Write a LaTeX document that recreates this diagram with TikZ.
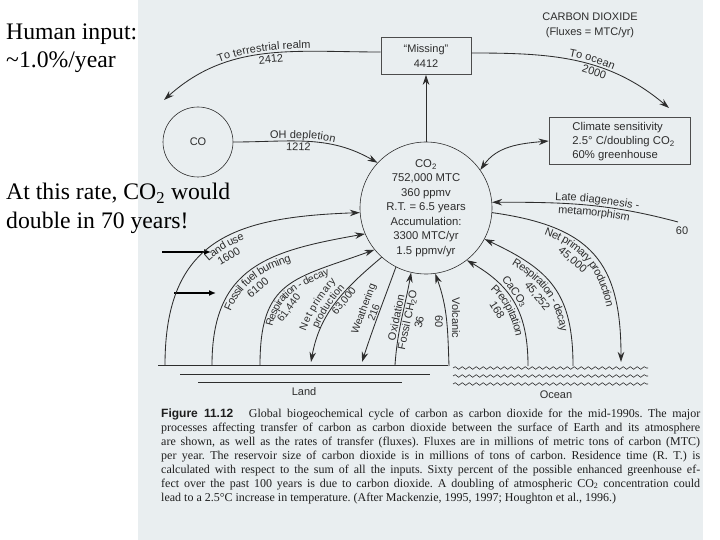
\documentclass[tikz,border=0pt]{standalone}
\usepackage{fontspec}
\setmainfont{Liberation Serif}
\setsansfont{Liberation Sans}
\usetikzlibrary{arrows.meta,decorations.pathmorphing,decorations.text}
\definecolor{scan}{RGB}{233,238,240}
\definecolor{ink}{RGB}{45,45,45}
\definecolor{capink}{RGB}{30,30,30}
\newcommand{\ctwo}{\textsubscript{2}}
\newcommand{\labfont}{\sffamily\fontsize{11}{12}\selectfont\color{ink}}
\newcommand{\smlabfont}{\sffamily\fontsize{10.4}{11}\selectfont\color{ink}}
\frenchspacing
\begin{document}
\begin{tikzpicture}[x=1pt,y=1pt,
  lab/.style={font=\sffamily\fontsize{11}{12}\selectfont, text=ink, inner sep=1.2pt, align=center},
  slab/.style={font=\sffamily\fontsize{10.4}{11}\selectfont, text=ink, inner sep=1pt, align=center},
  big/.style={font=\fontsize{23.7}{28}\selectfont, text=black, inner sep=0pt},
  captext/.style={font=\fontsize{12}{14}\selectfont, text=capink, inner sep=0pt, anchor=base west},
  tipa/.tip={Stealth[length=10pt,width=6.5pt]},
  flow/.style={draw=ink, line width=0.85pt, -tipa},
  flowrev/.style={draw=ink, line width=0.85pt, tipa-},
  dflow/.style={draw=ink, line width=0.85pt, tipa-tipa},
  pointer/.style={draw=black, line width=1.6pt, -{Latex[length=7pt,width=6pt]}},
  boxed/.style={draw=ink!85, line width=0.6pt, fill=scan},
  along/.style n args={4}{decorate, decoration={text along path, text={|\labfont|#1}, raise=#2,
      text align={center, left indent=#3, right indent=#4}}},
  salong/.style n args={4}{decorate, decoration={text along path, text={|\smlabfont|#1}, raise=#2,
      text align={center, left indent=#3, right indent=#4}}},
  wavy/.style={draw=ink, line width=0.6pt, decorate, decoration={snake, amplitude=1.3pt, segment length=7pt}}]
\fill[white] (0,0) rectangle (720,-540);
\fill[scan] (138,0) rectangle (703,-540);
\useasboundingbox (0,0) rectangle (720,-540);

% left annotations
\node[big, anchor=base west] (hum1) at (6,-39.5) {Human input:};
\node[big, anchor=base west] (hum2) at (6,-68) {\textasciitilde1.0\%/year};
\node[big, anchor=base west] (rate1) at (6,-200) {At this rate, CO\ctwo\ would};
\node[big, anchor=base west] (rate2) at (6,-229) {double in 70 years!};
\coordinate (pa1) at (162,-252); \coordinate (pa2) at (211,-252);
\coordinate (pb1) at (174,-293); \coordinate (pb2) at (216,-293);
\draw[pointer] (pa1) -- (pa2);
\draw[pointer] (pb1) -- (pb2);

% header
\node[lab] (cdx) at (590,-17) {CARBON DIOXIDE};
\node[lab] (flx) at (590,-33) {(Fluxes = MTC/yr)};

% main nodes
\node[boxed, lab, minimum width=90pt, minimum height=37pt] (miss) at (426,-56) {“Missing”\\[3pt]4412};
\node[draw=ink, line width=0.6pt, circle, minimum size=70pt, inner sep=0pt, lab] (co) at (198,-142) {CO};
\node[draw=ink, line width=0.6pt, circle, minimum size=132pt, inner sep=0pt, lab,
      font=\sffamily\fontsize{11.3}{14.5}\selectfont] (co2) at (426,-208)
  {CO\ctwo\\752,000 MTC\\360 ppmv\\R.T. = 6.5 years\\Accumulation:\\3300 MTC/yr\\1.5 ppmv/yr};
\node[boxed, minimum width=141pt, minimum height=47pt, inner sep=0pt] (clim) at (619.5,-141) {};
\node[lab, align=left, anchor=west, font=\sffamily\fontsize{11.3}{14}\selectfont] (climt) at (571,-142)
  {Climate sensitivity\\2.5° C/doubling CO\ctwo\\60\% greenhouse};

% end points
\coordinate (lt) at (164,-100);
\coordinate (rt) at (669,-108);
\coordinate (mw) at ([yshift=4pt]miss.west);
\coordinate (me) at ([yshift=3pt]miss.east);
\coordinate (ldend) at (678,-222);
\coordinate (onpp) at (621,-362);
\coordinate (oresb) at (573,-366);
\coordinate (ocab) at (528,-366);
\coordinate (volb) at (449,-366);
\coordinate (fosb) at (395,-365);
\coordinate (weab) at (362,-362);
\coordinate (lnpb) at (311,-362);
\coordinate (lrb) at (260,-365);
\coordinate (lfb) at (212,-365);
\coordinate (lub) at (165,-365);

% top fluxes
\draw[flow] (co2.north) -- (miss.south);
\draw[flowrev] (lt) to[out=42, in=180] node[lab, sloped, below, pos=0.53] (n2412) {2412} (mw);
\path[along={To terrestrial realm}{3pt}{0pt}{4pt}] (lt) to[out=42, in=180] (mw);
\draw[flow] (me) to[out=0, in=140] node[lab, sloped, below, pos=0.6] (n2000) {2000} (rt);
\path[along={To ocean}{3pt}{30pt}{0pt}] (me) to[out=0, in=140] (rt);

% CO and climate
\draw[flow] (co.east) to[out=0, in=150] node[lab, sloped, below, pos=0.43] (n1212) {1212} (co2.137);
\path[along={OH depletion}{3pt}{0pt}{10pt}] (co.east) to[out=0, in=150] (co2.137);
\draw[dflow] (co2.35) to[out=55, in=185] (clim.west);

% ocean side
\draw[flowrev] (co2.5) to[out=0, in=165] (ldend);
\path[along={Late diagenesis -}{3pt}{22pt}{0pt}] (co2.5) to[out=0, in=165] (ldend);
\path[along={metamorphism}{-10pt}{18pt}{0pt}] (co2.5) to[out=0, in=165] (ldend);
\node[lab] (n60a) at (682,-231) {60};

\draw[flow] (co2.-4) to[out=-8, in=90, looseness=1.3]
  node[lab, sloped, below, pos=0.43] (n45000) {\strut\\45,000} (onpp);
\path[along={Net primary production}{-10pt}{0pt}{0pt}] (co2.-4) to[out=-8, in=90, looseness=1.3] (onpp);

\draw[flowrev] (co2.-28) to[out=-25, in=90, looseness=1.2]
  node[lab, sloped, below, pos=0.48] (n45252) {\strut\\45,252} (oresb);
\path[along={Respiration - decay}{-10pt}{0pt}{0pt}] (co2.-28) to[out=-25, in=90, looseness=1.2] (oresb);

\draw[flowrev] (co2.-52) to[out=-30, in=90, looseness=1.1]
  node[lab, sloped, above, pos=0.42] (ocal) {CaCO\textsubscript{3}}
  node[lab, sloped, below, pos=0.47] (n168) {\strut\\168} (ocab);
\path[along={Precipitation}{-10pt}{6pt}{0pt}] (co2.-52) to[out=-30, in=90, looseness=1.1] (ocab);

\draw[flow] (volb) to[out=92, in=-70] (co2.-82);
\node[lab, rotate=-90] (volc) at (456,-318) {Volcanic};
\node[lab, rotate=-90] (n60b) at (439,-322) {60};

% land side
\draw[flow] (fosb) to[out=86, in=-100]
  node[lab, sloped, above, pos=0.5] (oxl) {Oxidation}
  node[lab, sloped, below, pos=0.5] (fcl) {Fossil CH\textsubscript{2}O\\36} (co2.-103);

\draw[flowrev] (weab) to[out=72, in=250]
  node[slab, sloped, above, pos=0.5] (wea) {Weathering\\216} (co2.243);

\draw[flowrev] (lnpb) to[out=80, in=220]
  node[slab, sloped, below, pos=0.56] (n63000) {63,000} (co2.228);
\path[salong={Net primary}{13pt}{0pt}{22pt}] (lnpb) to[out=80, in=220] (co2.228);
\path[salong={production}{2.5pt}{0pt}{14pt}] (lnpb) to[out=80, in=220] (co2.228);

\draw[flow] (lrb) to[out=90, in=200, looseness=1.35]
  node[slab, sloped, below, pos=0.38] (n61440) {\strut\\61,440} (co2.219);
\path[salong={Respiration - decay}{-9pt}{0pt}{10pt}] (lrb) to[out=90, in=200, looseness=1.35] (co2.219);

\draw[flow] (lfb) to[out=90, in=190, looseness=1.25]
  node[lab, sloped, below, pos=0.46] (n6100) {\strut\\6100} (co2.203);
\path[along={Fossil fuel burning}{-10pt}{0pt}{20pt}] (lfb) to[out=90, in=190, looseness=1.25] (co2.203);

\draw[flow] (lub) to[out=90, in=182, looseness=1.3]
  node[lab, sloped, below, pos=0.52] (n1600) {\strut\\1600} (co2.184);
\path[along={Land use}{-10pt}{0pt}{0pt}] (lub) to[out=90, in=182, looseness=1.3] (co2.184);

% ground
\draw[ink, line width=0.7pt] (158,-365) -- (448,-365);
\draw[ink, line width=0.6pt] (180,-374) -- (430,-374);
\draw[ink, line width=0.6pt] (198,-382) -- (402,-382);
\draw[wavy] (453,-368) -- (648,-368);
\draw[wavy] (453,-376) -- (648,-376);
\draw[wavy] (453,-384) -- (648,-384);
\node[lab] (landl) at (304,-392) {Land};
\node[lab] (oceanl) at (556,-395) {Ocean};

% caption
\node[captext] (cap1) at (161,-417) {\hbox to 539pt{{\sffamily\bfseries Figure 11.12}\hspace{1.3em}Global biogeochemical cycle of carbon as carbon dioxide for the mid-1990s. The major}};
\node[captext] (cap2) at (161,-431) {\hbox to 539pt{processes affecting transfer of carbon as carbon dioxide between the surface of Earth and its atmosphere}};
\node[captext] (cap3) at (161,-445) {\hbox to 539pt{are shown, as well as the rates of transfer (fluxes). Fluxes are in millions of metric tons of carbon (MTC)}};
\node[captext] (cap4) at (161,-459) {\hbox to 539pt{per year. The reservoir size of carbon dioxide is in millions of tons of carbon. Residence time (R. T.) is}};
\node[captext] (cap5) at (161,-473) {\hbox to 539pt{calculated with respect to the sum of all the inputs. Sixty percent of the possible enhanced greenhouse ef-}};
\node[captext] (cap6) at (161,-487) {\hbox to 539pt{fect over the past 100 years is due to carbon dioxide. A doubling of atmospheric CO\ctwo\ concentration could}};
\node[captext] (cap7) at (161,-501) {lead to a 2.5°C increase in temperature. (After Mackenzie, 1995, 1997; Houghton et al., 1996.)};
\end{tikzpicture}
\end{document}
